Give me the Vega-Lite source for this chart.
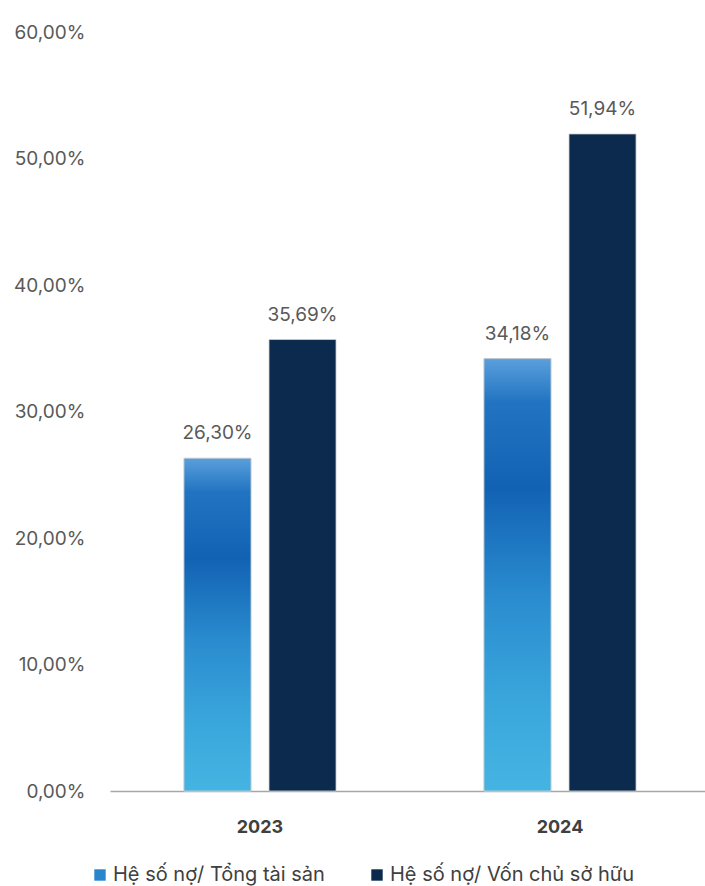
{
  "$schema": "https://vega.github.io/schema/vega-lite/v6.json",
  "width": 600,
  "height": 759,
  "autosize": {"type": "none"},
  "padding": {"left": 110, "top": 32, "right": 0, "bottom": 95},
  "background": "white",
  "config": {
    "view": {"stroke": null},
    "font": "Inter",
    "locale": {"number": {"decimal": ",", "thousands": ".", "grouping": [3], "currency": ["", " đ"]}}
  },
  "data": {
    "values": [
      {"year": "2023", "series": "Hệ số nợ/ Tổng tài sản", "value": 0.2630},
      {"year": "2023", "series": "Hệ số nợ/ Vốn chủ sở hữu", "value": 0.3569},
      {"year": "2024", "series": "Hệ số nợ/ Tổng tài sản", "value": 0.3418},
      {"year": "2024", "series": "Hệ số nợ/ Vốn chủ sở hữu", "value": 0.5194}
    ]
  },
  "encoding": {
    "x": {
      "field": "year", "type": "nominal",
      "scale": {"paddingInner": 0, "paddingOuter": 0},
      "axis": {"title": null, "labelAngle": 0, "ticks": false, "labelFontSize": 18, "labelFontWeight": "bold", "labelColor": "#404040", "labelPadding": 27, "domainColor": "#a6a6a6", "domainWidth": 1.5}
    },
    "xOffset": {"field": "series", "type": "nominal", "scale": {"paddingInner": 0.212, "paddingOuter": 0.87}},
    "y": {
      "field": "value", "type": "quantitative",
      "scale": {"domain": [0, 0.6]},
      "axis": {"title": null, "format": ".2%", "values": [0, 0.1, 0.2, 0.3, 0.4, 0.5, 0.6], "labelOverlap": false, "labelBound": false, "labelFlush": false, "grid": false, "domain": false, "ticks": false, "labelFontSize": 19, "labelColor": "#595959", "labelPadding": 25}
    }
  },
  "layer": [
    {
      "mark": {"type": "bar", "stroke": "#d0d0d0", "strokeWidth": 0.8},
      "encoding": {
        "color": {
          "field": "series", "type": "nominal",
          "scale": {"domain": ["Hệ số nợ/ Tổng tài sản", "Hệ số nợ/ Vốn chủ sở hữu"], "range": ["#2a86cc", "#0b2a4d"]},
          "legend": {"title": null, "orient": "none", "legendX": -20, "legendY": 833, "direction": "horizontal", "columns": 2, "symbolType": "square", "symbolSize": 130, "labelFontSize": 20, "labelColor": "#404040", "columnPadding": 42, "labelOffset": 3, "symbolStrokeWidth": 0, "labelLimit": 400}
        }
      }
    },
    {
      "transform": [{"filter": "datum.series === 'Hệ số nợ/ Tổng tài sản'"}],
      "mark": {
        "type": "bar",
        "stroke": "#d0d0d0",
        "strokeWidth": 0.8,
        "color": {
          "gradient": "linear", "x1": 0, "y1": 0, "x2": 0, "y2": 1,
          "stops": [
            {"offset": 0, "color": "#5a9fdc"},
            {"offset": 0.1, "color": "#2274c2"},
            {"offset": 0.3, "color": "#1262b3"},
            {"offset": 0.55, "color": "#2a8ccf"},
            {"offset": 0.8, "color": "#3aa7dc"},
            {"offset": 1, "color": "#45b4e2"}
          ]
        }
      }
    },
    {
      "mark": {"type": "text", "baseline": "bottom", "dy": -15, "fontSize": 19, "color": "#595959"},
      "encoding": {"text": {"field": "value", "type": "quantitative", "format": ".2%"}}
    }
  ]
}
